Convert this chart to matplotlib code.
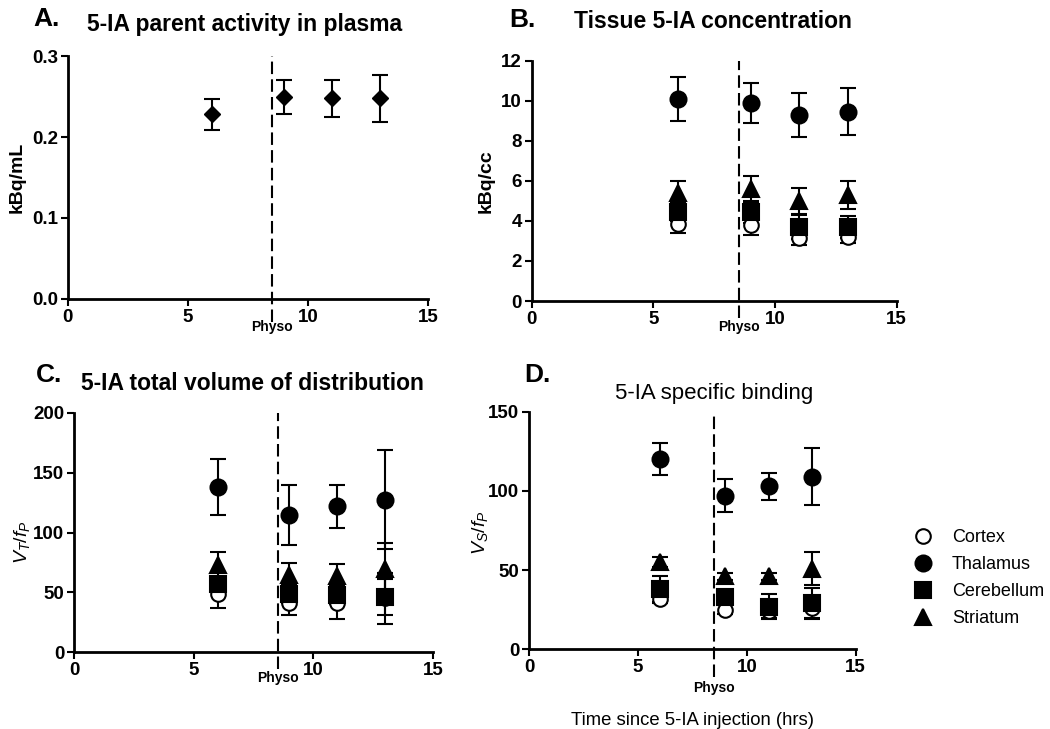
import matplotlib
matplotlib.use('Agg')
import matplotlib.pyplot as plt
from matplotlib.lines import Line2D

plt.rcParams['font.family'] = ['Liberation Sans', 'DejaVu Sans']
plt.rcParams['mathtext.fontset'] = 'custom'
plt.rcParams['mathtext.rm'] = 'Liberation Sans'
plt.rcParams['mathtext.it'] = 'Liberation Sans:italic'
plt.rcParams['mathtext.bf'] = 'Liberation Sans:bold'

# sampling times (hrs)
times = [6, 9, 11, 13]
physo_time = 8.5

# A. parent activity in plasma (kBq/mL)
plasma = [0.228, 0.249, 0.248, 0.248]
plasma_err = [0.019, 0.021, 0.023, 0.029]

regions = ['Cortex', 'Thalamus', 'Cerebellum', 'Striatum']

# B. tissue concentration (kBq/cc)
tissue = {
    'Cortex': [3.85, 3.8, 3.15, 3.2],
    'Thalamus': [10.1, 9.9, 9.3, 9.45],
    'Cerebellum': [4.45, 4.45, 3.7, 3.7],
    'Striatum': [5.4, 5.6, 5.0, 5.3],
}
tissue_err = {
    'Cortex': [0.45, 0.5, 0.33, 0.3],
    'Thalamus': [1.1, 1.0, 1.1, 1.17],
    'Cerebellum': [0.45, 0.55, 0.6, 0.55],
    'Striatum': [0.6, 0.65, 0.65, 0.7],
}

# C. total volume of distribution (VT/fP)
vt = {
    'Cortex': [49, 41, 41, 45],
    'Thalamus': [138, 115, 122, 127.5],
    'Cerebellum': [57, 49, 48, 46],
    'Striatum': [73, 65, 64, 70],
}
vt_err = {
    'Cortex': [12, 10, 13, 21],
    'Thalamus': [23.5, 25, 18, 41],
    'Cerebellum': [6, 8, 8, 15],
    'Striatum': [11, 10, 9.5, 21],
}

# D. specific binding (VS/fP)
vs = {
    'Cortex': [32, 25, 24, 26],
    'Thalamus': [120, 97, 103, 109],
    'Cerebellum': [38, 33, 27, 29],
    'Striatum': [55, 46, 46, 51],
}
vs_err = {
    'Cortex': [3, 3, 4, 7],
    'Thalamus': [10, 10.3, 8.5, 18],
    'Cerebellum': [8, 4, 8, 9.5],
    'Striatum': [3, 2, 2, 10.5],
}

styles = {
    'Cortex': dict(marker='o', mfc='white', ms=10.5),
    'Thalamus': dict(marker='o', mfc='black', ms=11.5),
    'Cerebellum': dict(marker='s', mfc='black', ms=11),
    'Striatum': dict(marker='^', mfc='black', ms=11),
}


def style_axes(ax, ylim, yticks, yfmt=None):
    ax.set_xlim(0, 15)
    ax.set_xticks([0, 5, 10, 15])
    ax.set_ylim(*ylim)
    ax.set_yticks(yticks)
    if yfmt:
        ax.set_yticklabels([yfmt % v for v in yticks])
    for s in ['top', 'right']:
        ax.spines[s].set_visible(False)
    for s in ['left', 'bottom']:
        ax.spines[s].set_linewidth(2)
    ax.tick_params(direction='out', length=5, width=1.5, pad=2,
                   labelsize=13.5)
    for lab in ax.get_xticklabels() + ax.get_yticklabels():
        lab.set_fontweight('bold')


def physo_line(ax, dash_bottom, text_px):
    ax.axvline(physo_time, ymin=dash_bottom, ymax=1.0, clip_on=False,
               color='black', lw=1.5, ls=(0, (6, 2.5)))
    ax.annotate('Physo', xy=(physo_time, 0), xycoords=('data', 'axes fraction'),
                xytext=(0, -text_px), textcoords='offset pixels',
                ha='center', va='center', fontsize=10, fontweight='bold')


def plot_regions(ax, vals, errs):
    for r in regions:
        ax.errorbar(times, vals[r], yerr=errs[r], ls='none', color='black',
                    mec='black', mew=1.5, elinewidth=1.5, capsize=6, capthick=1.5,
                    **styles[r])


fig = plt.figure(figsize=(10.5, 7.29), dpi=100)

axA = fig.add_axes([0.0645, 0.590, 0.343, 0.333])
axB = fig.add_axes([0.5064, 0.587, 0.3476, 0.330])
axC = fig.add_axes([0.0705, 0.105, 0.342, 0.329])
axD = fig.add_axes([0.504, 0.1093, 0.311, 0.326])

# A
axA.errorbar(times, plasma, yerr=plasma_err, ls='none', color='black',
             marker='D', ms=8.5, mfc='black', mec='black',
             elinewidth=1.5, capsize=6, capthick=1.5)
style_axes(axA, (0, 0.3), [0.0, 0.1, 0.2, 0.3], '%.1f')
physo_line(axA, -0.095, 28)
axA.set_ylabel('kBq/mL', fontsize=14, fontweight='bold')
axA.yaxis.set_label_coords(-0.116, 0.5)

# B
plot_regions(axB, tissue, tissue_err)
style_axes(axB, (0, 12), [0, 2, 4, 6, 8, 10, 12])
physo_line(axB, -0.07, 26)
axB.set_ylabel('kBq/cc', fontsize=14, fontweight='bold')
axB.yaxis.set_label_coords(-0.101, 0.5)

# C
plot_regions(axC, vt, vt_err)
style_axes(axC, (0, 200), [0, 50, 100, 150, 200])
physo_line(axC, -0.07, 26)
axC.set_ylabel(r'$V_T/f_P$', fontsize=14)
axC.yaxis.set_label_coords(-0.116, 0.46)

# D
plot_regions(axD, vs, vs_err)
style_axes(axD, (0, 150), [0, 50, 100, 150])
physo_line(axD, -0.118, 39)
axD.set_ylabel(r'$V_S/f_P$', fontsize=14)
axD.yaxis.set_label_coords(-0.12, 0.49)
axD.set_xlabel('Time since 5-IA injection (hrs)', fontsize=13.3, labelpad=26)

# panel letters and titles
H = 729.0
W = 1050.0
panel_titles = [
    ('A.', 47, 19, '5-IA parent activity in plasma', 245, 24, 'bold'),
    ('B.', 522, 20, 'Tissue 5-IA concentration', 713, 21, 'bold'),
    ('C.', 49, 375, '5-IA total volume of distribution', 252, 383, 'bold'),
    ('D.', 537, 375, '5-IA specific binding', 714, 393, 'normal'),
]
for letter, lx, ly, title, tx, ty, w in panel_titles:
    fig.text(lx / W, 1 - ly / H, letter, fontsize=19, fontweight='bold',
             ha='center', va='center')
    fig.text(tx / W, 1 - ty / H, title, fontsize=16.5 if w == 'bold' else 16,
             fontweight=w, ha='center', va='center')

handles = [Line2D([], [], ls='none', color='black', mec='black', mew=1.5,
                  **styles[r]) for r in regions]
fig.legend(handles, regions, loc='center left', bbox_to_anchor=(914 / W, 1 - 578 / H),
           frameon=False, fontsize=13, handlelength=1.0, handletextpad=1.1,
           labelspacing=0.55, borderpad=0, borderaxespad=0)

fig.savefig('out.png', dpi=100)
